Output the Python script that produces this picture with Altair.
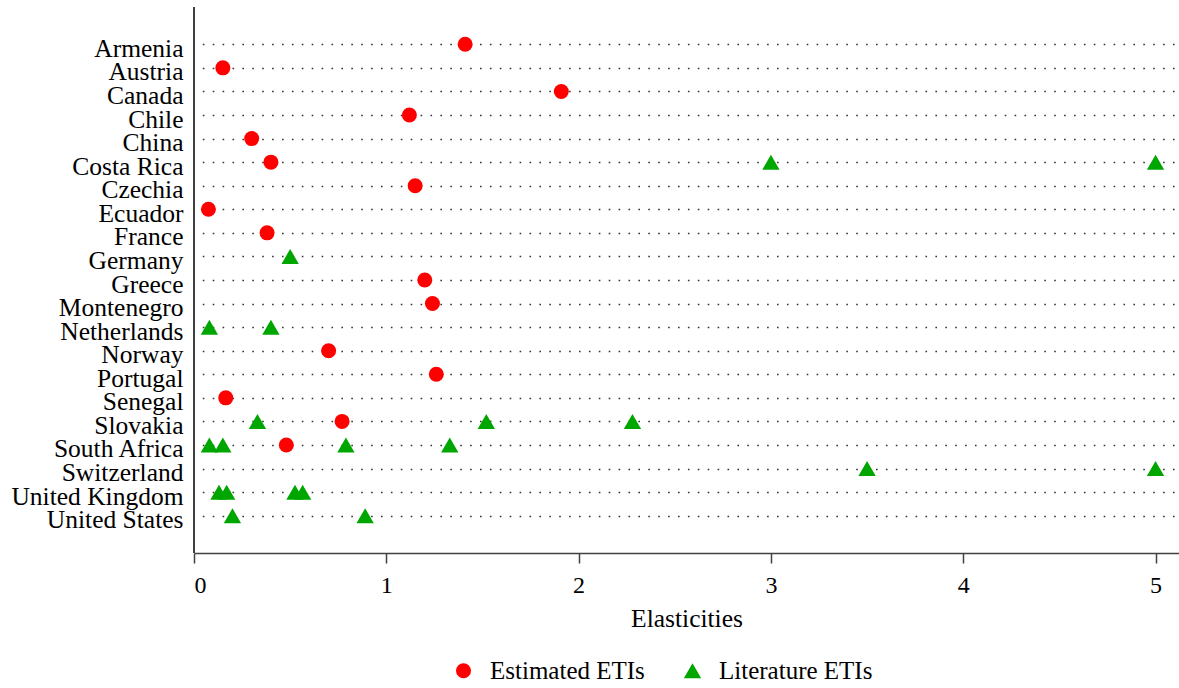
import altair as alt
import pandas as pd

countries = ["Armenia", "Austria", "Canada", "Chile", "China", "Costa Rica", "Czechia",
             "Ecuador", "France", "Germany", "Greece", "Montenegro", "Netherlands",
             "Norway", "Portugal", "Senegal", "Slovakia", "South Africa", "Switzerland",
             "United Kingdom", "United States"]

est_countries = ["Armenia", "Austria", "Canada", "Chile", "China", "Costa Rica", "Czechia",
                 "Ecuador", "France", "Greece", "Montenegro", "Norway", "Portugal",
                 "Senegal", "Slovakia", "South Africa"]
est_values = [1.41, 0.15, 1.91, 1.12, 0.30, 0.40, 1.15, 0.075, 0.38, 1.20, 1.24, 0.70,
              1.26, 0.165, 0.77, 0.48]

lit_countries = ["Costa Rica", "Costa Rica", "Germany", "Netherlands", "Netherlands",
                 "Slovakia", "Slovakia", "Slovakia",
                 "South Africa", "South Africa", "South Africa", "South Africa",
                 "Switzerland", "Switzerland",
                 "United Kingdom", "United Kingdom", "United Kingdom", "United Kingdom",
                 "United States", "United States"]
lit_values = [3.0, 5.0, 0.50, 0.08, 0.40,
              0.33, 1.52, 2.28,
              0.08, 0.15, 0.79, 1.33,
              3.5, 5.0,
              0.13, 0.17, 0.525, 0.565,
              0.20, 0.89]

series = ["Estimated ETIs", "Literature ETIs"]
x_ticks = [0, 1, 2, 3, 4, 5]

df = pd.DataFrame(
    {"country": est_countries + lit_countries,
     "value": est_values + lit_values,
     "series": [series[0]] * len(est_countries) + [series[1]] * len(lit_countries)}
)

FONT = "Liberation Serif"
W, H = 985, 546

points = alt.Chart(df).mark_point(filled=True, opacity=1).encode(
    x=alt.X("value:Q",
            scale=alt.Scale(domain=[0, 5.122], nice=False, zero=True),
            axis=alt.Axis(values=x_ticks, title="Elasticities", grid=False,
                          labelFont=FONT, labelFontSize=24, labelColor="black",
                          labelBaseline="alphabetic", labelPadding=29,
                          tickSize=10, tickColor="#404040", tickWidth=1.5,
                          domainColor="#404040", domainWidth=1.5,
                          titleFont=FONT, titleFontSize=25.5, titleFontWeight="normal",
                          titleColor="black", titleBaseline="alphabetic", titleY=73,
                          format="d")),
    y=alt.Y("country:N", sort=countries,
            scale=alt.Scale(type="point", domain=countries, range=[37.3, 508.7], padding=0),
            axis=alt.Axis(title=None, ticks=False, tickSize=0, domain=False,
                          labelFont=FONT, labelFontSize=25.5, labelColor="black",
                          labelBaseline="alphabetic", labelOffset=12, labelPadding=11,
                          labelLimit=400,
                          grid=True, gridColor="#333333", gridWidth=1.6,
                          gridDash=[1.6, 8.3], gridDashOffset=1.6)),
    color=alt.Color("series:N",
                    scale=alt.Scale(domain=series, range=["#FF0000", "#00A600"]),
                    legend=alt.Legend(title=None, orient="none", direction="horizontal",
                                      legendX=257, legendY=651,
                                      labelFont=FONT, labelFontSize=25,
                                      labelColor="black", labelBaseline="middle",
                                      labelOffset=14, columnPadding=35,
                                      symbolSize=250, symbolStrokeWidth=0)),
    shape=alt.Shape("series:N",
                    scale=alt.Scale(domain=series, range=["circle", "triangle-up"]),
                    legend=None),
    size=alt.Size("series:N",
                  scale=alt.Scale(domain=series, range=[225, 300]),
                  legend=None),
)

# left axis line spanning the full plot height
y_axis_line = alt.Chart(df).mark_rule(color="#404040", strokeWidth=1.5).encode(
    x=alt.value(0), y=alt.value(0), y2=alt.value(H)
)

chart = alt.layer(y_axis_line, points).properties(
    width=W, height=H,
    padding={"left": 194, "top": 7, "right": 0, "bottom": 135},
    autosize=alt.AutoSizeParams(type="none"),
    background="white",
).configure_view(stroke=None)

chart.save("out.html", embed_options={"renderer": "svg", "actions": False})
